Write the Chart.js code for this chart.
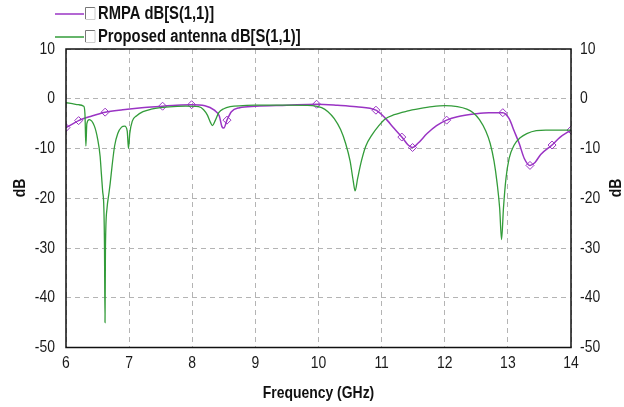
<!DOCTYPE html>
<html>
<head>
<meta charset="utf-8">
<script src="https://cdn.jsdelivr.net/npm/chart.js@4/dist/chart.umd.min.js"></script>
<style>
  html, body { margin: 0; padding: 0; background: #fff; }
  #wrap { width: 624px; height: 407px; position: relative; }
</style>
</head>
<body>
<div id="wrap"><canvas id="c" width="624" height="407"></canvas></div>
<script>
// Return loss S(1,1) in dB versus frequency (GHz)
const proposedFreq = [6.00, 6.10, 6.20, 6.28, 6.30, 6.315, 6.33, 6.37, 6.45, 6.50, 6.54, 6.56, 6.58, 6.60, 6.61, 6.618, 6.625, 6.65, 6.68, 6.70, 6.73, 6.77, 6.82, 6.88, 6.93, 6.97, 6.99, 7.01, 7.05, 7.12, 7.22, 7.35, 7.50, 7.70, 7.90, 8.10, 8.18, 8.24, 8.29, 8.32, 8.36, 8.42, 8.50, 8.60, 8.80, 9.00, 9.50, 9.90, 10.05, 10.15, 10.25, 10.35, 10.43, 10.50, 10.55, 10.58, 10.62, 10.68, 10.75, 10.85, 10.95, 11.05, 11.20, 11.40, 11.60, 11.80, 12.00, 12.20, 12.35, 12.45, 12.55, 12.65, 12.72, 12.78, 12.83, 12.87, 12.90, 12.93, 12.97, 13.02, 13.10, 13.20, 13.30, 13.45, 13.60, 14.00];
const proposedDb   = [-0.8, -1.0, -1.2, -1.5, -3.0, -9.5, -5.0, -4.2, -5.5, -8.0, -11.5, -15.0, -18.5, -22.0, -30.0, -45.0, -30.0, -22.0, -19.0, -17.0, -13.5, -9.5, -7.0, -5.7, -5.5, -6.5, -10.0, -7.0, -4.5, -3.4, -2.6, -2.1, -1.8, -1.6, -1.5, -1.6, -2.2, -3.3, -4.8, -5.4, -4.5, -2.8, -2.0, -1.6, -1.4, -1.3, -1.3, -1.4, -1.8, -2.6, -4.0, -6.2, -9.0, -12.5, -16.5, -18.5, -16.0, -12.5, -9.5, -7.2, -5.5, -4.1, -3.2, -2.5, -2.0, -1.6, -1.4, -1.6, -2.1, -2.8, -4.2, -6.5, -9.0, -12.5, -17.0, -22.0, -28.3, -22.0, -16.0, -12.0, -9.3, -7.8, -7.0, -6.4, -6.3, -6.3];

const rmpaFreq = [6.00, 6.10, 6.20, 6.40, 6.62, 6.90, 7.20, 7.53, 7.75, 7.99, 8.20, 8.35, 8.43, 8.47, 8.50, 8.55, 8.62, 8.75, 9.00, 9.50, 9.97, 10.30, 10.60, 10.91, 11.05, 11.20, 11.32, 11.42, 11.49, 11.58, 11.72, 11.87, 12.03, 12.20, 12.50, 12.70, 12.92, 13.02, 13.10, 13.18, 13.26, 13.35, 13.43, 13.52, 13.70, 13.82, 14.00];
const rmpaDb   = [-5.8, -5.1, -4.4, -3.5, -2.7, -2.2, -1.8, -1.5, -1.3, -1.2, -1.4, -2.3, -3.5, -5.6, -5.9, -4.3, -2.6, -1.8, -1.5, -1.3, -1.1, -1.3, -1.6, -2.3, -3.8, -6.0, -7.7, -9.3, -9.8, -8.9, -7.0, -5.4, -4.3, -3.6, -3.0, -2.8, -2.8, -4.0, -6.5, -9.0, -12.0, -13.4, -12.8, -11.2, -9.3, -7.8, -6.3];
// frequencies carrying a marker on the RMPA trace
const rmpaMarkers = [6.00, 6.20, 6.62, 7.53, 7.99, 8.55, 9.97, 10.91, 11.32, 11.49, 12.03, 12.92, 13.35, 13.70, 14.00];

const xTicks = [6, 7, 8, 9, 10, 11, 12, 13, 14];
const yTicks = [-50, -40, -30, -20, -10, 0, 10];

const seriesNames = ['RMPA dB[S(1,1)]', 'Proposed antenna dB[S(1,1)]'];
const xTitle = 'Frequency (GHz)';
const yTitle = 'dB';

const PURPLE = '#9a34c4';
const GREEN = '#339c3a';
const FONT = '"Liberation Sans", Arial, sans-serif';
const NARROW = 0.82; // condensed lettering

const toPts = (xs, ys) => xs.map((x, i) => ({ x: x, y: ys[i] }));

// draw text squeezed horizontally, anchored at (x, y)
function narrowText(ctx, text, x, y, align) {
  ctx.save();
  ctx.translate(x, y);
  ctx.scale(NARROW, 1);
  ctx.textAlign = align;
  ctx.fillText(text, 0, 0);
  ctx.restore();
}

const frame = {
  id: 'frame',
  afterDraw(chart) {
    const { ctx, chartArea: a, scales } = chart;
    ctx.save();
    // plot box
    ctx.strokeStyle = '#111';
    ctx.lineWidth = 1.5;
    ctx.strokeRect(a.left, a.top, a.right - a.left, a.bottom - a.top);

    // tick labels
    ctx.fillStyle = '#1a1a1a';
    ctx.textBaseline = 'middle';
    ctx.font = '17px ' + FONT;
    xTicks.forEach(v => narrowText(ctx, String(v), scales.x.getPixelForValue(v), 363, 'center'));
    yTicks.forEach(v => {
      const py = scales.y.getPixelForValue(v);
      narrowText(ctx, String(v), 55, py, 'right');
      narrowText(ctx, String(v), 580, py, 'left');
    });

    // axis titles
    ctx.fillStyle = '#111';
    ctx.font = 'bold 17px ' + FONT;
    narrowText(ctx, xTitle, (a.left + a.right) / 2, 393, 'center');
    [20, 616].forEach(x => {
      ctx.save();
      ctx.translate(x, 188);
      ctx.rotate(-Math.PI / 2);
      narrowText(ctx, yTitle, 0, 0, 'center');
      ctx.restore();
    });

    // legend
    const colors = [PURPLE, GREEN];
    const rows = [14, 37];
    ctx.font = 'bold 18px ' + FONT;
    rows.forEach((y, i) => {
      ctx.strokeStyle = colors[i];
      ctx.lineWidth = 1.5;
      ctx.beginPath();
      ctx.moveTo(55, y);
      ctx.lineTo(84, y);
      ctx.stroke();
      // checkbox
      ctx.fillStyle = '#fff';
      ctx.fillRect(85, y - 7, 10, 12);
      ctx.lineWidth = 1;
      ctx.strokeStyle = '#777';
      ctx.beginPath();
      ctx.moveTo(85.5, y + 5); ctx.lineTo(85.5, y - 6.5); ctx.lineTo(95, y - 6.5);
      ctx.stroke();
      ctx.strokeStyle = '#ccc';
      ctx.beginPath();
      ctx.moveTo(95, y - 6.5); ctx.lineTo(95, y + 5.5); ctx.lineTo(85.5, y + 5.5);
      ctx.stroke();
      ctx.fillStyle = '#111';
      narrowText(ctx, seriesNames[i], 98, y, 'left');
    });
    ctx.restore();
  }
};

const gridStyle = {
  color: '#b4b4b4',
  lineWidth: 1,
  drawTicks: false
};

new Chart(document.getElementById('c'), {
  type: 'line',
  data: {
    datasets: [
      {
        label: seriesNames[1],
        data: toPts(proposedFreq, proposedDb),
        borderColor: GREEN,
        borderWidth: 1.3,
        pointRadius: 0,
        cubicInterpolationMode: 'monotone',
        yAxisID: 'y'
      },
      {
        label: seriesNames[0],
        data: toPts(rmpaFreq, rmpaDb),
        borderColor: PURPLE,
        borderWidth: 1.5,
        pointStyle: 'rectRot',
        pointRadius: ctx => rmpaMarkers.includes(ctx.raw && ctx.raw.x) ? 4 : 0,
        pointBorderColor: PURPLE,
        pointBackgroundColor: 'rgba(255,255,255,0)',
        pointBorderWidth: 1,
        cubicInterpolationMode: 'monotone',
        yAxisID: 'y'
      }
    ]
  },
  options: {
    responsive: false,
    animation: false,
    devicePixelRatio: 1,
    layout: { padding: { top: 49, left: 0, right: 0, bottom: 0 } },
    plugins: { legend: { display: false }, tooltip: { enabled: false } },
    scales: {
      x: {
        type: 'linear',
        min: 6, max: 14,
        afterBuildTicks: s => { s.ticks = xTicks.map(v => ({ value: v })); },
        afterFit: s => { s.height = 59.5; },
        grid: Object.assign({}, gridStyle),
        border: { display: false, dash: [5, 4] },
        ticks: { display: false }
      },
      y: {
        position: 'left',
        min: -50, max: 10,
        afterBuildTicks: s => { s.ticks = yTicks.map(v => ({ value: v })); },
        afterFit: s => { s.width = 66; },
        grid: Object.assign({}, gridStyle),
        border: { display: false, dash: [5, 4] },
        ticks: { display: false }
      },
      y2: {
        position: 'right',
        min: -50, max: 10,
        afterFit: s => { s.width = 53; },
        grid: { display: false },
        border: { display: false },
        ticks: { display: false }
      }
    }
  },
  plugins: [frame]
});
</script>
</body>
</html>
